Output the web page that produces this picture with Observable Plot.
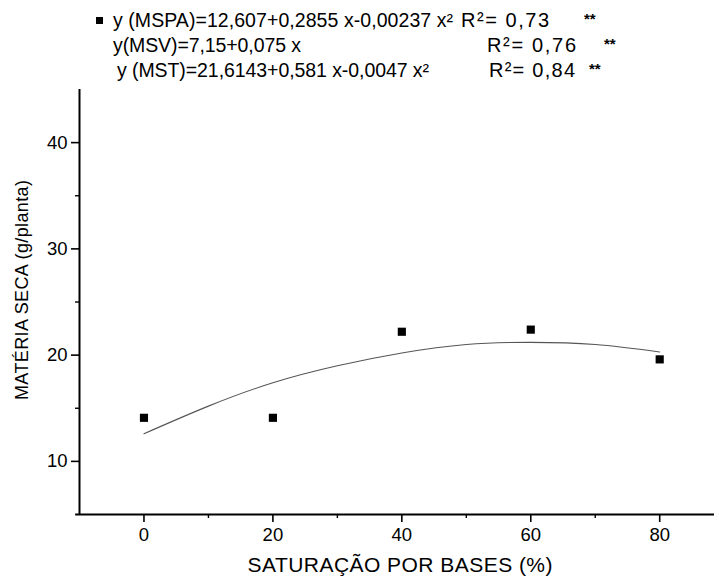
<!DOCTYPE html>
<html>
<head>
<meta charset="utf-8">
<script src="https://cdn.jsdelivr.net/npm/d3@7"></script>
<script src="https://cdn.jsdelivr.net/npm/@observablehq/plot@0.6"></script>
<style>
  html, body { margin: 0; padding: 0; background: #fff; }
  #wrap { position: relative; width: 719px; height: 577px; overflow: hidden; }
  #wrap svg.plot { position: absolute; left: 0; top: 0; }
  #overlay { position: absolute; left: 0; top: 0; pointer-events: none; }
</style>
</head>
<body>
<div id="wrap"></div>
<script>
// ---- data ----
const saturacao = [0, 20, 40, 60, 80];
const mspa = [14.1, 14.1, 22.2, 22.4, 19.6];
// fitted curve
const curveX = [0, 10, 20, 30, 40, 50, 60, 70, 80];
const curveY = [12.6, 15.2, 17.4, 19.0, 20.2, 21.0, 21.2, 21.0, 20.3];
const xTicks = [0, 20, 40, 60, 80];
const xMinor = [10, 30, 50, 70];
const yTicks = [10, 20, 30, 40];
const yMinor = [15, 25, 35];
const xTitle = "SATURAÇÃO POR BASES (%)";
const yTitle = "MATÉRIA SECA (g/planta)";
const legendEq = [
  "y (MSPA)=12,607+0,2855 x-0,00237 x²",
  "y(MSV)=7,15+0,075 x",
  "y (MST)=21,6143+0,581 x-0,0047 x²"
];
const legendR2 = ["R²= 0,73", "R²= 0,76", "R²= 0,84"];
const legendSig = ["**", "**", "**"];

const points = saturacao.map((x, i) => ({x, y: mspa[i]}));
const fit = curveX.map((x, i) => ({x, y: curveY[i]}));

const font = '"Liberation Sans", Arial, sans-serif';

const chart = Plot.plot({
  width: 719,
  height: 577,
  marginLeft: 79,
  marginRight: 5,
  marginTop: 89,
  marginBottom: 63,
  style: {fontFamily: font, fontSize: "18px", background: "white", color: "black"},
  x: {domain: [-10, 88.5]},
  y: {domain: [5, 45]},
  marks: [
    Plot.axisY({ticks: yTicks, tickSize: 8, tickPadding: 4, fontSize: 18.5, label: null, strokeWidth: 1.6}),
    Plot.axisY({ticks: yMinor, tickSize: 4, text: null, label: null, strokeWidth: 1.4}),
    Plot.axisX({ticks: xTicks, tickSize: 8, tickPadding: 5, fontSize: 18.5, label: null, strokeWidth: 1.6}),
    Plot.axisX({ticks: xMinor, tickSize: 4, text: null, label: null, strokeWidth: 1.4}),
    Plot.ruleX([-10], {strokeWidth: 2}),
    Plot.ruleY([5], {strokeWidth: 2, x1: -10.6, x2: 88.5}),
    Plot.line(fit, {x: "x", y: "y", curve: "natural", stroke: "#555", strokeWidth: 1.1}),
    Plot.dot(points, {x: "x", y: "y", symbol: "square", r: 4.6, fill: "black", stroke: "none"})
  ]
});
chart.classList.add("plot");
const wrap = document.getElementById("wrap");
wrap.appendChild(chart);

// overlay: legend header and axis titles
const svg = d3.select(wrap).append("svg")
  .attr("id", "overlay").attr("width", 719).attr("height", 577)
  .style("font-family", font).attr("fill", "black");

svg.append("text")
  .attr("x", 400).attr("y", 572)
  .attr("text-anchor", "middle")
  .attr("textLength", 305).attr("lengthAdjust", "spacing")
  .style("font-size", "21px")
  .text(xTitle);

svg.append("text")
  .attr("transform", "translate(27.5,290) rotate(-90)")
  .attr("text-anchor", "middle")
  .attr("textLength", 220).attr("lengthAdjust", "spacing")
  .style("font-size", "18px")
  .text(yTitle);

const rows = [27, 52, 77];
const eqX = [113, 113, 117];
const eqLen = [340, 188, 312];
const r2X = [461, 487, 489];
const r2Len = [88, 89, 86];
const sigX = [584, 604, 589];
svg.append("rect").attr("x", 96).attr("y", 17).attr("width", 7).attr("height", 7).attr("fill", "black");
legendEq.forEach((t, i) => {
  svg.append("text").attr("x", eqX[i]).attr("y", rows[i])
    .attr("textLength", eqLen[i]).attr("lengthAdjust", "spacing")
    .style("font-size", "19.5px").text(t);
  svg.append("text").attr("x", r2X[i]).attr("y", rows[i])
    .attr("textLength", r2Len[i]).attr("lengthAdjust", "spacing")
    .style("font-size", "20px").text(legendR2[i]);
  svg.append("text").attr("x", sigX[i]).attr("y", rows[i] - 3)
    .style("font-size", "15px").style("font-weight", "bold").text(legendSig[i]);
});
</script>
</body>
</html>
